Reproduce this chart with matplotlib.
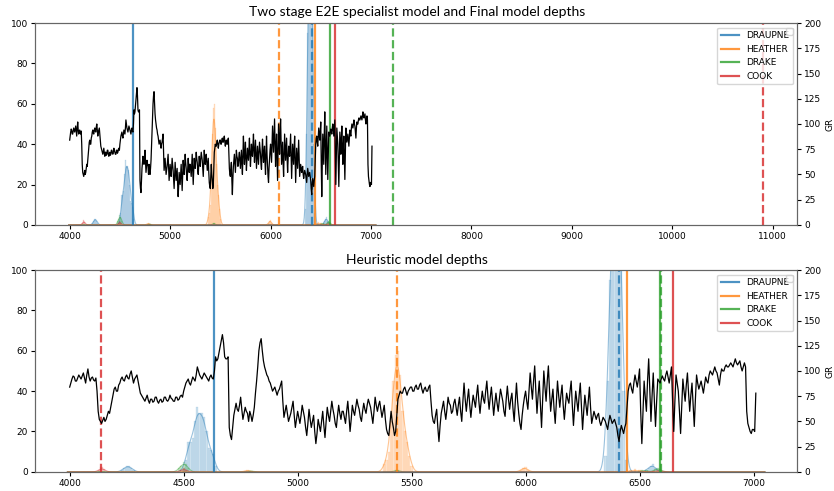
import numpy as np
import matplotlib.pyplot as plt

# gamma ray log, sampled every 5 depth units from 4000
gr_depth = np.arange(4000, 7015, 5)
gr = [
    84, 88, 92, 95, 94, 90, 90, 93, 96, 94, 92, 95, 98, 93, 88, 96, 102, 94, 90, 93,
    94, 91, 90, 93, 80, 60, 52, 50, 48, 51, 54, 50, 52, 56, 60, 58, 64, 70, 76, 82,
    84, 80, 80, 86, 88, 92, 94, 91, 90, 94, 96, 93, 92, 97, 100, 94, 88, 92, 94, 96,
    90, 84, 78, 76, 74, 72, 70, 73, 76, 71, 68, 72, 72, 69, 70, 74, 74, 70, 68, 71,
    72, 69, 70, 74, 74, 71, 70, 72, 76, 73, 72, 70, 70, 74, 74, 71, 72, 75, 76, 74,
    80, 84, 88, 90, 92, 88, 86, 90, 94, 92, 90, 96, 104, 100, 96, 94, 92, 95, 98, 96,
    94, 92, 90, 94, 96, 93, 92, 100, 114, 110, 112, 118, 124, 130, 136, 128, 114, 112, 112, 114,
    44, 36, 32, 44, 56, 62, 68, 62, 60, 66, 74, 62, 52, 58, 64, 60, 58, 50, 60, 56,
    50, 56, 64, 78, 90, 104, 120, 128, 132, 120, 110, 104, 100, 96, 94, 90, 88, 84, 80, 82,
    84, 80, 76, 80, 82, 86, 90, 70, 54, 60, 66, 58, 50, 54, 58, 64, 70, 56, 44, 52,
    60, 54, 48, 56, 66, 60, 54, 44, 36, 48, 62, 52, 44, 50, 56, 40, 28, 38, 52, 46,
    40, 50, 60, 46, 34, 50, 64, 56, 50, 60, 70, 62, 56, 48, 44, 56, 66, 58, 52, 60,
    60, 54, 48, 60, 70, 56, 40, 52, 66, 60, 56, 64, 72, 66, 62, 54, 50, 60, 68, 62,
    58, 66, 72, 68, 64, 56, 48, 60, 74, 66, 60, 66, 70, 62, 54, 60, 66, 52, 42, 38,
    36, 48, 60, 50, 44, 36, 40, 56, 72, 76, 80, 78, 78, 82, 84, 80, 76, 80, 82, 84,
    84, 80, 80, 84, 86, 82, 82, 86, 88, 82, 78, 82, 84, 80, 80, 84, 86, 70, 56, 50,
    48, 56, 62, 44, 30, 46, 58, 64, 70, 60, 52, 62, 74, 68, 66, 58, 60, 68, 72, 64,
    56, 66, 74, 60, 50, 70, 88, 72, 60, 72, 82, 66, 54, 66, 76, 70, 64, 76, 86, 70,
    58, 70, 80, 72, 68, 80, 90, 74, 62, 74, 84, 70, 56, 68, 78, 68, 60, 72, 82, 76,
    70, 60, 55, 72, 85, 72, 62, 72, 78, 62, 50, 70, 88, 70, 58, 48, 42, 56, 66, 74,
    80, 70, 62, 80, 98, 84, 72, 90, 105, 80, 58, 76, 90, 66, 44, 72, 100, 84, 70, 90,
    105, 80, 60, 72, 82, 62, 48, 70, 90, 76, 64, 76, 86, 66, 52, 66, 78, 72, 68, 80,
    90, 66, 46, 64, 80, 70, 60, 76, 88, 64, 42, 60, 76, 66, 56, 70, 84, 64, 48, 54,
    60, 56, 52, 56, 58, 50, 46, 50, 54, 52, 50, 46, 42, 50, 56, 52, 48, 50, 52, 48,
    44, 36, 30, 40, 46, 42, 38, 44, 48, 64, 80, 86, 88, 82, 78, 88, 96, 90, 84, 92,
    102, 60, 28, 60, 90, 74, 60, 90, 112, 80, 50, 76, 98, 70, 45, 70, 92, 90, 88, 92,
    95, 92, 90, 96, 100, 94, 88, 96, 104, 70, 40, 70, 96, 88, 80, 60, 38, 66, 92, 80,
    70, 86, 98, 78, 60, 76, 88, 66, 45, 72, 96, 88, 82, 86, 90, 84, 78, 86, 94, 90,
    88, 96, 100, 98, 96, 100, 104, 100, 98, 92, 86, 96, 102, 100, 100, 104, 106, 104, 104, 106,
    108, 106, 104, 108, 112, 108, 106, 108, 110, 104, 100, 104, 108, 104, 60, 48, 44, 40, 38, 42,
    42, 40, 78,
]

formations = ["DRAUPNE", "HEATHER", "DRAKE", "COOK"]
colors = ["#1f77b4", "#ff7f0e", "#2ca02c", "#d62728"]

# predicted depth histograms (bin centre, count)
draupne_bins = [4230, 4240, 4250, 4260, 4270, 4280,
                4500, 4510, 4520, 4530, 4540, 4550, 4560, 4570, 4580, 4590,
                4600, 4610, 4620, 4630, 4640,
                6350, 6360, 6370, 6380, 6390, 6400, 6410, 6420, 6430, 6440,
                6530, 6540, 6550, 6560, 6570]
draupne_counts = [1, 2, 3, 3, 2, 1,
                  2, 6, 15, 15, 17, 25, 32, 29, 29, 27,
                  20, 12, 11, 9, 3,
                  8, 45, 95, 130, 160, 170, 150, 110, 40, 6,
                  1, 2, 3, 4, 2]
heather_bins = [4770, 4780, 4790,
                5380, 5390, 5400, 5410, 5420, 5430, 5440, 5450, 5460, 5470,
                5480, 5490, 5500,
                5980, 5990, 6000, 6010, 6460, 6480, 6500, 6520]
heather_counts = [0.5, 1, 0.5,
                  4, 6, 10, 25, 45, 58, 60, 48, 30, 20,
                  15, 8, 3,
                  1, 2, 2.5, 1, 1, 1.5, 1, 0.5]
drake_bins = [4480, 4490, 4500, 4510, 4520, 4790, 4800, 5430, 5440,
              6510, 6530, 6570, 6580, 6590]
drake_counts = [2, 3, 5, 4, 2, 0.5, 0.5, 1, 1,
                1, 1, 1.5, 2, 1.5]
cook_bins = [4130, 4140, 4150, 4490, 4500, 4510, 6560, 6580, 6600]
cook_counts = [1, 2.5, 1.5, 1, 2, 1, 0.5, 1, 0.5]

hist_bins = [draupne_bins, heather_bins, drake_bins, cook_bins]
hist_counts = [draupne_counts, heather_counts, drake_counts, cook_counts]

# final model picks (solid) and the other model's picks (dashed)
final_depths = [4635, 6447, 6588, 6646]
e2e_depths = [6410, 6082, 7218, 10905]
heuristic_depths = [6409, 5437, 6592, 4139]

panels = [
    ("Two stage E2E specialist model and Final model depths", e2e_depths, (3655, 11245)),
    ("Heuristic model depths", heuristic_depths, (3848, 7192)),
]

fig = plt.figure(figsize=(8.34, 4.91), dpi=100)
positions = [[0.042, 0.542, 0.914, 0.411], [0.042, 0.039, 0.914, 0.411]]
title_y = [0.975, 0.47]

grid = np.linspace(3990, 7050, 1200)
bw = 10
h = 12

for (title, dashed, xlim), pos, ty in zip(panels, positions, title_y):
    ax = fig.add_axes(pos)
    for name, c, b, n in zip(formations, colors, hist_bins, hist_counts):
        ax.bar(b, n, width=bw, color=c, alpha=0.22, edgecolor=c, linewidth=0.3)
        b = np.array(b, float)
        n = np.array(n, float)
        kde = (n[:, None] * np.exp(-(grid[None, :] - b[:, None]) ** 2 / (2 * h * h))).sum(0)
        kde = kde * bw / (h * np.sqrt(2 * np.pi))
        ax.plot(grid, kde, color=c, lw=0.8, alpha=0.45)
    for name, c, d in zip(formations, colors, final_depths):
        ax.axvline(d, color=c, lw=1.6, alpha=0.8, label=name)
    for c, d in zip(colors, dashed):
        ax.axvline(d, color=c, lw=1.6, ls="--", alpha=0.8)
    ax.set_xlim(xlim)
    ax.set_ylim(0, 100)
    ax.set_yticks(range(0, 101, 20))
    ax.tick_params(labelsize=6.5, length=3, pad=2)
    ax.legend(loc="upper right", fontsize=6.5)

    ax2 = ax.twinx()
    ax2.plot(gr_depth, gr, color="black", lw=0.9)
    ax2.set_ylim(0, 200)
    ax2.set_yticks(range(0, 201, 25))
    ax2.tick_params(labelsize=6.5, length=3, pad=2)
    ax2.set_ylabel("GR", fontsize=6.5, labelpad=3)
    ax2.legend(handles=[], loc="upper right", fontsize=6.5)
    for a in (ax, ax2):
        for s in a.spines.values():
            s.set_color("0.4")

    fig.text(0.5, ty, title, ha="center", va="center", fontsize=10, family="Lato")

fig.savefig("out.png", dpi=100)
